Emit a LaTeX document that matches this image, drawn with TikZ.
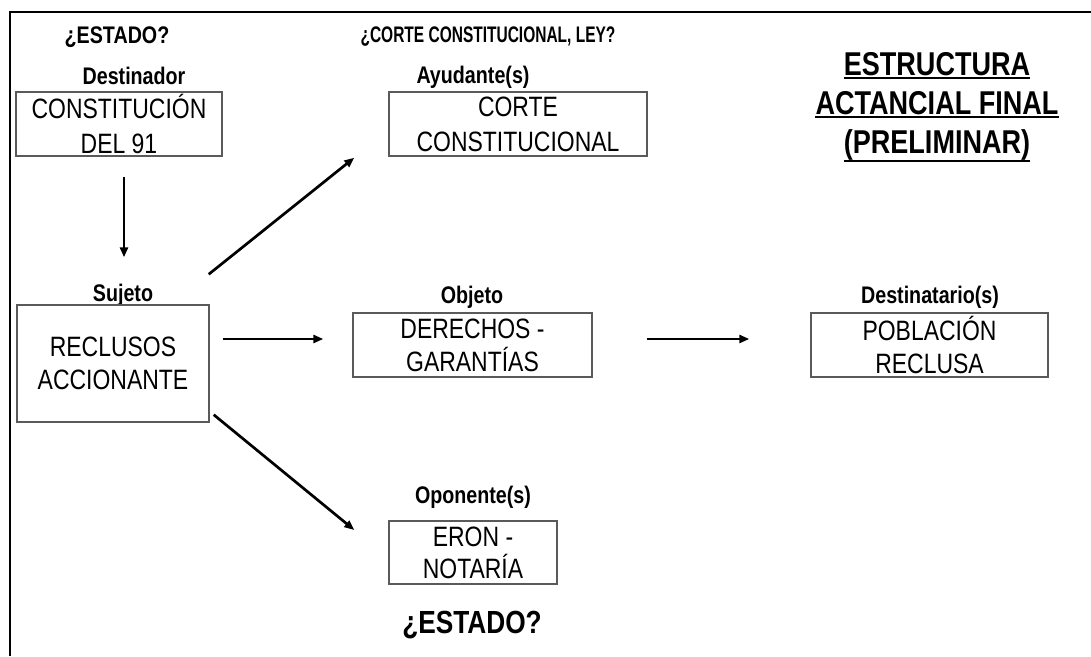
\documentclass[tikz,border=0pt]{standalone}
\usepackage{fontspec}
\setmainfont{Liberation Sans}[FakeStretch=0.82]
\usetikzlibrary{arrows.meta,calc}
\definecolor{boxgray}{HTML}{5A5A5A}
\tikzset{
  box/.style={draw=boxgray, line width=1.4pt, inner sep=0pt, align=center,
    font=\fontsize{28}{34}\selectfont},
  lbl/.style={inner sep=0pt, font=\bfseries\fontsize{24}{28}\selectfont},
  ttl/.style={inner sep=0pt, anchor=base, font=\bfseries\fontsize{33}{39}\selectfont},
  arr/.style={line width=2.7pt, -{Triangle[length=10pt,width=8pt]}},
  uline/.style={line width=2pt}
}
\begin{document}
\begin{tikzpicture}[x=1pt,y=-1pt]
\useasboundingbox (0,0) rectangle (1091,656);
% frame
\draw[line width=2pt] (10,656) -- (10,12) -- (1091,12);

% labels
\node[lbl] (q1) at (117,37) {¿ESTADO?};
\node[lbl, font=\bfseries\fontsize{22.5}{26}\selectfont] (q2) at (488,37) {\scalebox{0.84}[1]{¿CORTE CONSTITUCIONAL, LEY?}};
\node[lbl] (ldest) at (134,76) {Destinador};
\node[lbl] (layu) at (473,77) {Ayudante(s)};
\node[lbl] (lsuj) at (123,295) {Sujeto};
\node[lbl] (lobj) at (472,297) {Objeto};
\node[lbl] (ldst) at (930,297) {Destinatario(s)};
\node[lbl] (lopo) at (473,497) {Oponente(s)};
\node[inner sep=0pt, font=\bfseries\fontsize{32}{38}\selectfont] (q3) at (472,625) {¿ESTADO?};

% boxes
\node[box, font=\fontsize{28}{35}\selectfont, minimum width=206pt, minimum height=64pt] (dest) at (119,124) {CONSTITUCIÓN\\DEL 91};
\node[box, font=\fontsize{28}{35}\selectfont, minimum width=258pt, minimum height=64pt] (ayu) at (518,124) {CORTE\\CONSTITUCIONAL};
\node[box, font=\fontsize{28}{33}\selectfont, minimum width=192pt, minimum height=117pt] (suj) at (113,363.5) {RECLUSOS\\ACCIONANTE};
\node[box, font=\fontsize{28}{33}\selectfont, minimum width=239pt, minimum height=64pt] (obj) at (472.5,345) {DERECHOS -\\GARANTÍAS};
\node[box, font=\fontsize{28}{33}\selectfont, minimum width=237pt, minimum height=64pt] (dst) at (929.5,345) {POBLACIÓN\\RECLUSA};
\node[box, font=\fontsize{28}{32}\selectfont, minimum width=168pt, minimum height=63pt] (opo) at (473,552.5) {ERON -\\NOTARÍA};

% title
\node[ttl] (t1) at (937,75) {ESTRUCTURA};
\node[ttl] (t2) at (937,114) {ACTANCIAL FINAL};
\node[ttl] (t3) at (937,153) {(PRELIMINAR)};
\draw[uline] ($(t1.base west)+(0,3)$) -- ($(t1.base east)+(0,3)$);
\draw[uline] ($(t2.base west)+(0,3)$) -- ($(t2.base east)+(0,3)$);
\draw[uline] ($(t3.base west)+(0,8)$) -- ($(t3.base east)+(0,8)$);

% arrows
\draw[arr] ($(dest.south)+(5,20)$) -- ($(dest.south |- suj.north)+(5,-47)$);
\draw[arr] ($(suj.north east)+(-1,-30)$) -- ($(ayu.south west)+(-34,1)$);
\draw[arr] ($(suj.east)+(13,-24.5)$) -- ($(obj.west)+(-29,-6)$);
\draw[arr] ($(obj.east)+(54,-6)$) -- ($(dst.west)+(-61,-6)$);
\draw[arr] ($(suj.south east)+(4,-8)$) -- ($(opo.west)+(-34,-22.5)$);
\end{tikzpicture}
\end{document}
